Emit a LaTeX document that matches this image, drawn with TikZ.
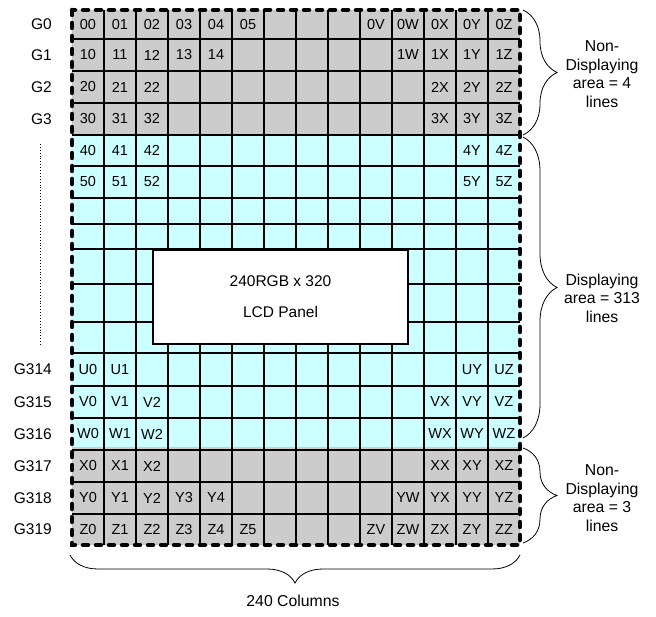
\documentclass[tikz,border=0pt]{standalone}
\usepackage{fontspec}
\setmainfont{Liberation Sans}
\usetikzlibrary{decorations.pathreplacing}
\definecolor{offgray}{HTML}{CCCCCC}
\definecolor{lightcyan}{HTML}{CCFFFF}

\begin{document}
\begin{tikzpicture}[x=1pt, y=-1pt, font=\fontsize{14.5}{17.5}\selectfont,
    gridline/.style={line width=1.6pt},
    cell/.style={inner sep=0pt},
    rowlabel/.style={anchor=east, inner sep=0pt, font=\fontsize{15.5}{18.5}\selectfont},
    sidenote/.style={align=center, inner sep=0pt, font=\fontsize{15.8}{18.5}\selectfont},
    panelbox/.style={draw, fill=white, line width=1.6pt, align=center,
        minimum width=255pt, minimum height=94pt, font=\fontsize{15.5}{18}\selectfont},
    framedash/.style={line width=4.5pt, line cap=round, dash pattern=on 5pt off 8pt},
    bigbrace/.style={decorate, decoration={brace, amplitude=#1}, line width=0.8pt}]

    \useasboundingbox (0,0) rectangle (656,617);

    % Define corners of the panel grid
    \coordinate (NW) at (72,10);
    \coordinate (SE) at (520,545);

    % Non-displaying and displaying areas
    \fill[offgray] (NW) rectangle (SE);
    \fill[lightcyan] (72,135) rectangle (520,447);

    % Horizontal grid lines (rows are not all the same height)
    \foreach \y in {39,71,103,135,166,198,224,249,284,322,353,386,418,450,482,514}
        \draw[gridline] (72,\y) -- (520,\y);

    % Vertical grid lines, 14 columns
    \foreach \c in {1,...,13}
        \draw[gridline] ({72+32*\c},10) -- ({72+32*\c},545);

    % LCD panel on top of the grid
    \node[panelbox] (panel) at (280.5,297) {240RGB x 320\\[13pt]LCD Panel};

    % Dashed frame round the whole grid
    \draw[framedash] (NW) rectangle (SE);

    % Cell labels, row by row
    \foreach \yc/\r/\cells in {
        24.5/0/{0/00,1/01,2/02,3/03,4/04,5/05,9/0V,10/0W,11/0X,12/0Y,13/0Z},
        55/1/{0/10,1/11,2/12,3/13,4/14,10/1W,11/1X,12/1Y,13/1Z},
        87/2/{0/20,1/21,2/22,11/2X,12/2Y,13/2Z},
        119/3/{0/30,1/31,2/32,11/3X,12/3Y,13/3Z},
        150.5/4/{0/40,1/41,2/42,12/4Y,13/4Z},
        182/5/{0/50,1/51,2/52,12/5Y,13/5Z},
        369.5/U/{0/U0,1/U1,12/UY,13/UZ},
        402/V/{0/V0,1/V1,2/V2,11/VX,12/VY,13/VZ},
        434/W/{0/W0,1/W1,2/W2,11/WX,12/WY,13/WZ},
        466/X/{0/X0,1/X1,2/X2,11/XX,12/XY,13/XZ},
        498/Y/{0/Y0,1/Y1,2/Y2,3/Y3,4/Y4,10/YW,11/YX,12/YY,13/YZ},
        529.5/Z/{0/Z0,1/Z1,2/Z2,3/Z3,4/Z4,5/Z5,9/ZV,10/ZW,11/ZX,12/ZY,13/ZZ}}
        \foreach \c/\t in \cells
            \node[cell] (cell-\r-\c) at ({88+32*\c},\yc) {\t};

    % Gate line labels
    \foreach \yc/\g in {24.5/G0, 55/G1, 87/G2, 119/G3, 369.5/G314,
                        402/G315, 434/G316, 466/G317, 498/G318, 529.5/G319}
        \node[rowlabel] (\g) at (52,\yc) {\g};

    % Dotted line for the skipped gate lines
    \coordinate (dot_top) at (40,144);
    \coordinate (dot_bot) at (40,346);
    \draw[dotted, line width=0.9pt] (dot_top) -- (dot_bot);

    % Braces on the right
    \coordinate (nd_top_a) at (523,10);
    \coordinate (nd_top_b) at (523,135);
    \coordinate (disp_a)   at (523,137);
    \coordinate (disp_b)   at (523,438);
    \coordinate (nd_bot_a) at (523,448);
    \coordinate (nd_bot_b) at (523,543);
    \draw[bigbrace=34pt] (nd_top_a) -- (nd_top_b);
    \draw[bigbrace=34pt] (disp_a) -- (disp_b);
    \draw[bigbrace=34pt] (nd_bot_a) -- (nd_bot_b);

    \node[sidenote] (nd_top) at (602,74)  {Non-\\Displaying\\area = 4\\lines};
    \node[sidenote] (disp)   at (602,298) {Displaying\\area = 313\\lines};
    \node[sidenote] (nd_bot) at (602,498) {Non-\\Displaying\\area = 3\\lines};

    % Brace under the columns
    \coordinate (col_right) at (520,555);
    \coordinate (col_left)  at (70,555);
    \draw[bigbrace=28pt] (col_right) -- (col_left);
    \node[sidenote] (cols) at (293,601) {240 Columns};

\end{tikzpicture}
\end{document}
